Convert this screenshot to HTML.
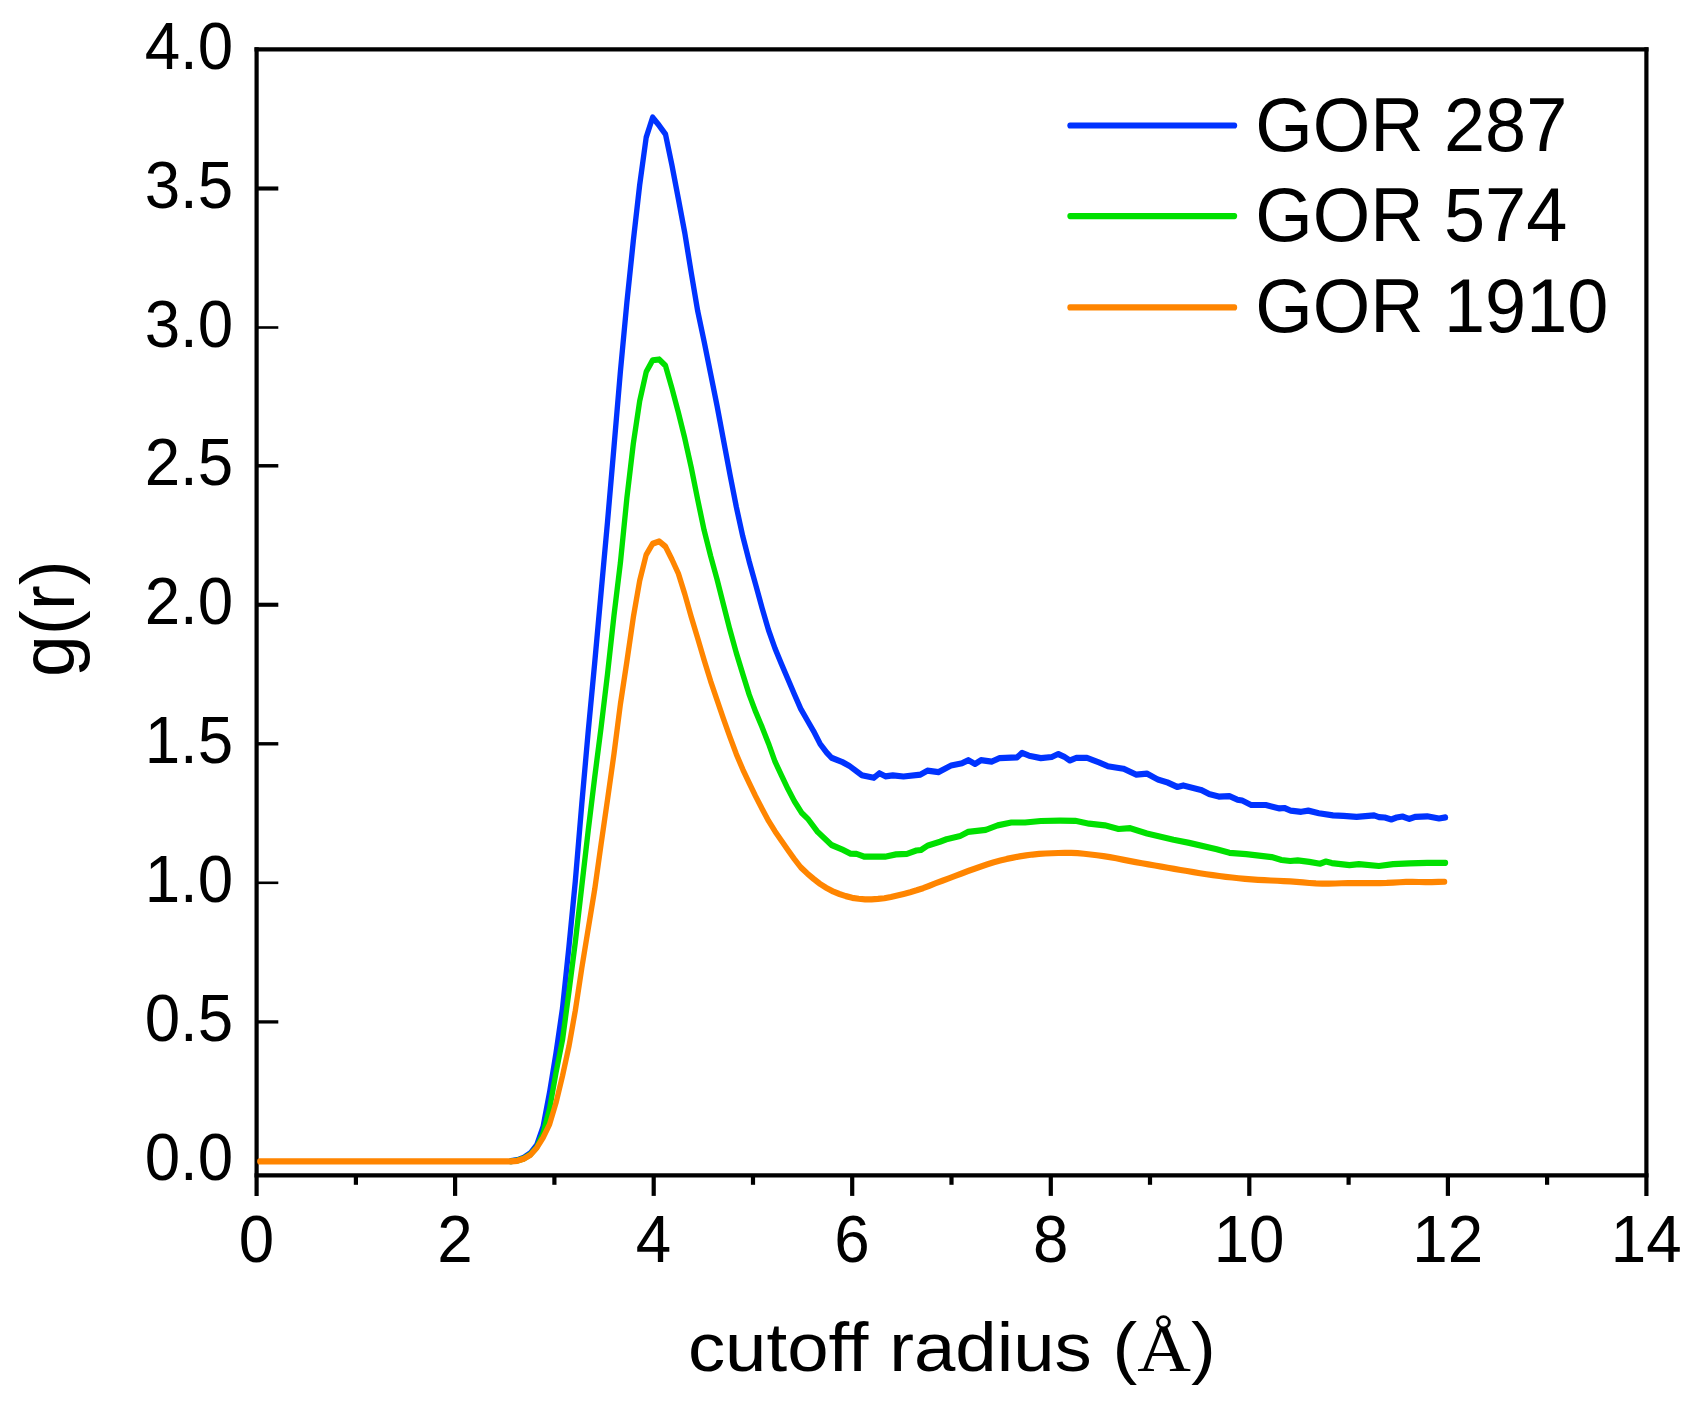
<!DOCTYPE html>
<html lang="en"><head><meta charset="utf-8"><title>g(r) vs cutoff radius</title>
<style>html,body{margin:0;padding:0;background:#fff}svg{display:block}text{font-family:"Liberation Sans",sans-serif;fill:#000}.tk{font-size:63.7px}.lg{font-size:73.9px}.ser{font-family:"Liberation Serif",serif}</style></head><body>
<svg width="1702" height="1401" viewBox="0 0 1702 1401">
<rect width="1702" height="1401" fill="#fff"/>
<g stroke="#000" stroke-width="4.2" fill="none"><line x1="256.6" y1="47.3" x2="256.6" y2="1195.9"/><line x1="1646.4" y1="47.3" x2="1646.4" y2="1195.9"/><line x1="254.5" y1="49.4" x2="1648.5" y2="49.4"/><line x1="254.5" y1="1175.3" x2="1648.5" y2="1175.3"/></g>
<g stroke="#000" stroke-width="4.2" fill="none"><line x1="355.9" y1="1175.3" x2="355.9" y2="1184.8"/><line x1="455.1" y1="1175.3" x2="455.1" y2="1195.9"/><line x1="554.4" y1="1175.3" x2="554.4" y2="1184.8"/><line x1="653.7" y1="1175.3" x2="653.7" y2="1195.9"/><line x1="753.0" y1="1175.3" x2="753.0" y2="1184.8"/><line x1="852.2" y1="1175.3" x2="852.2" y2="1195.9"/><line x1="951.5" y1="1175.3" x2="951.5" y2="1184.8"/><line x1="1050.8" y1="1175.3" x2="1050.8" y2="1195.9"/><line x1="1150.0" y1="1175.3" x2="1150.0" y2="1184.8"/><line x1="1249.3" y1="1175.3" x2="1249.3" y2="1195.9"/><line x1="1348.6" y1="1175.3" x2="1348.6" y2="1184.8"/><line x1="1447.9" y1="1175.3" x2="1447.9" y2="1195.9"/><line x1="1547.1" y1="1175.3" x2="1547.1" y2="1184.8"/><line x1="256.6" y1="188.50" x2="278.3" y2="188.50" stroke-width="4.1"/><line x1="256.6" y1="327.50" x2="278.3" y2="327.50" stroke-width="2.6"/><line x1="256.6" y1="465.80" x2="278.3" y2="465.80" stroke-width="3.5"/><line x1="256.6" y1="604.75" x2="278.3" y2="604.75" stroke-width="4.1"/><line x1="256.6" y1="743.80" x2="278.3" y2="743.80" stroke-width="3.4"/><line x1="256.6" y1="882.80" x2="278.3" y2="882.80" stroke-width="2.6"/><line x1="256.6" y1="1021.90" x2="278.3" y2="1021.90" stroke-width="3.3"/></g>
<text class="tk" transform="translate(256.4,1261.9) scale(1,1.047)" text-anchor="middle">0</text><text class="tk" transform="translate(454.9,1261.9) scale(1,1.047)" text-anchor="middle">2</text><text class="tk" transform="translate(653.5,1261.9) scale(1,1.047)" text-anchor="middle">4</text><text class="tk" transform="translate(852.0,1261.9) scale(1,1.047)" text-anchor="middle">6</text><text class="tk" transform="translate(1050.6,1261.9) scale(1,1.047)" text-anchor="middle">8</text><text class="tk" transform="translate(1249.1,1261.9) scale(1,1.047)" text-anchor="middle">10</text><text class="tk" transform="translate(1447.7,1261.9) scale(1,1.047)" text-anchor="middle">12</text><text class="tk" transform="translate(1646.2,1261.9) scale(1,1.047)" text-anchor="middle">14</text><text class="tk" transform="translate(233.2,1180.2) scale(1,1.047)" text-anchor="end">0.0</text><text class="tk" transform="translate(233.2,1041.2) scale(1,1.047)" text-anchor="end">0.5</text><text class="tk" transform="translate(233.2,902.0) scale(1,1.047)" text-anchor="end">1.0</text><text class="tk" transform="translate(233.2,763.0) scale(1,1.047)" text-anchor="end">1.5</text><text class="tk" transform="translate(233.2,624.0) scale(1,1.047)" text-anchor="end">2.0</text><text class="tk" transform="translate(233.2,485.1) scale(1,1.047)" text-anchor="end">2.5</text><text class="tk" transform="translate(233.2,346.8) scale(1,1.047)" text-anchor="end">3.0</text><text class="tk" transform="translate(233.2,207.8) scale(1,1.047)" text-anchor="end">3.5</text><text class="tk" transform="translate(233.2,68.7) scale(1,1.047)" text-anchor="end">4.0</text>
<g transform="scale(1,1.16)" fill="none" stroke-width="5.34" stroke-linejoin="round" stroke-linecap="round">
<path stroke="#0033ff" d="M510.9,1000.94 L517.4,1000.10 L523.8,998.01 L530.3,994.22 L536.7,987.14 L543.1,971.35 L549.6,941.60 L556.0,907.75 L562.5,869.19 L568.9,816.44 L575.3,759.78 L581.8,693.02 L588.2,630.56 L594.7,571.46 L601.1,510.58 L607.5,449.99 L614.0,385.09 L620.4,320.27 L626.9,260.58 L633.3,207.75 L639.7,159.27 L646.2,118.42 L652.6,101.30 L659.1,108.11 L665.5,115.73 L671.9,142.23 L678.4,171.53 L684.8,200.87 L691.2,234.93 L697.7,268.14 L704.1,294.28 L710.6,322.06 L717.0,349.61 L723.4,378.97 L729.9,408.76 L736.3,436.89 L742.8,462.43 L749.2,484.03 L755.6,503.80 L762.1,524.28 L768.5,543.15 L775.0,558.93 L781.4,572.27 L787.8,585.24 L794.3,598.34 L800.7,610.97 L807.2,620.78 L813.6,630.33 L820.0,641.09 L826.5,648.61 L831.5,653.28 L842.5,656.98 L849.5,660.34 L861.7,668.28 L873.9,670.52 L879.4,666.55 L885.3,669.22 L892.8,668.45 L903.5,669.40 L920.6,667.76 L927.3,664.40 L938.5,665.60 L951.1,659.91 L962.2,657.93 L968.5,655.34 L975.0,658.62 L980.9,655.34 L991.7,656.55 L999.5,653.53 L1017.2,652.84 L1022.1,648.97 L1029.0,651.47 L1040.8,653.53 L1051.8,652.59 L1058.1,650.00 L1064.5,652.50 L1069.8,655.60 L1076.3,653.36 L1087.1,653.36 L1098.9,657.24 L1107.7,660.52 L1123.4,662.67 L1136.2,667.76 L1147.0,666.90 L1157.8,671.98 L1167.6,674.57 L1177.4,678.45 L1183.3,677.07 L1201.0,680.95 L1208.9,684.40 L1218.7,686.72 L1229.5,686.38 L1237.3,689.40 L1242.2,690.09 L1251.1,693.97 L1265.8,693.97 L1279.5,696.90 L1284.5,696.55 L1290.6,698.79 L1301.2,699.83 L1308.3,698.79 L1318.9,701.03 L1333.0,702.93 L1343.6,703.36 L1356.6,704.14 L1374.2,702.93 L1378.9,704.40 L1384.8,704.74 L1391.3,706.47 L1396.6,704.74 L1402.5,703.88 L1409.0,705.95 L1415.5,704.14 L1427.2,703.71 L1439.0,705.60 L1445.5,704.66"/>
<path stroke="#00e000" d="M510.9,1001.05 L517.4,1000.45 L523.8,998.78 L530.3,995.32 L536.7,989.14 L543.1,977.09 L549.6,955.77 L556.0,924.67 L562.5,896.47 L568.9,855.30 L575.3,812.30 L581.8,763.82 L588.2,716.08 L594.7,670.09 L601.1,627.02 L607.5,581.17 L614.0,530.41 L620.4,485.15 L626.9,429.28 L633.3,382.51 L639.7,345.72 L646.2,320.61 L652.6,310.57 L659.1,309.88 L665.5,315.29 L671.9,334.61 L678.4,355.75 L684.8,377.95 L691.2,402.83 L697.7,430.72 L704.1,457.06 L710.6,479.17 L717.0,499.20 L723.4,521.06 L729.9,542.95 L736.3,562.84 L742.8,581.13 L749.2,598.82 L755.6,613.52 L762.1,626.91 L768.5,640.88 L775.0,656.53 L781.4,668.36 L787.8,679.92 L794.3,690.56 L801.7,700.69 L808.0,706.03 L817.4,716.90 L831.5,728.45 L842.5,732.50 L850.4,735.86 L856.6,736.12 L864.5,738.53 L885.0,738.53 L896.0,736.55 L907.0,736.12 L916.3,733.19 L921.0,732.76 L928.0,728.79 L939.9,725.69 L946.5,723.45 L960.2,720.69 L968.1,717.16 L985.8,715.43 L997.6,711.55 L1011.3,709.05 L1025.1,709.05 L1040.8,707.76 L1060.0,707.50 L1075.3,707.59 L1089.1,710.09 L1104.8,711.47 L1118.5,714.66 L1130.3,713.97 L1147.0,718.53 L1173.5,723.97 L1189.2,726.64 L1216.7,732.07 L1229.5,735.17 L1246.2,736.29 L1271.7,738.88 L1281.5,741.38 L1290.3,742.24 L1297.7,741.72 L1309.4,743.02 L1320.0,744.57 L1325.9,742.67 L1331.8,744.05 L1349.5,745.86 L1358.9,745.00 L1378.9,746.55 L1393.1,745.00 L1409.6,744.22 L1427.2,743.79 L1445.5,743.79"/>
<path stroke="#ff8500" d="M259.8,1001.21 L266.3,1001.21 L272.7,1001.21 L279.1,1001.21 L285.6,1001.21 L292.0,1001.21 L298.5,1001.21 L304.9,1001.21 L311.3,1001.21 L317.8,1001.21 L324.2,1001.21 L330.7,1001.21 L337.1,1001.21 L343.5,1001.21 L350.0,1001.21 L356.4,1001.21 L362.8,1001.21 L369.3,1001.21 L375.7,1001.21 L382.2,1001.21 L388.6,1001.21 L395.0,1001.21 L401.5,1001.21 L407.9,1001.21 L414.4,1001.21 L420.8,1001.21 L427.2,1001.21 L433.7,1001.21 L440.1,1001.21 L446.6,1001.21 L453.0,1001.21 L459.4,1001.21 L465.9,1001.21 L472.3,1001.21 L478.8,1001.21 L485.2,1001.21 L491.6,1001.21 L498.1,1001.21 L504.5,1001.21 L510.9,1001.12 L517.4,1000.73 L523.8,998.99 L530.3,995.67 L536.7,989.55 L543.1,980.73 L549.6,969.22 L556.0,950.74 L562.5,927.47 L568.9,902.18 L575.3,871.23 L581.8,834.47 L588.2,800.73 L594.7,766.76 L601.1,727.63 L607.5,689.45 L614.0,649.88 L620.4,607.00 L626.9,570.13 L633.3,532.26 L639.7,500.53 L646.2,478.18 L652.6,468.80 L659.1,466.67 L665.5,471.22 L671.9,482.20 L678.4,494.53 L684.8,512.20 L691.2,531.67 L697.7,550.19 L704.1,568.96 L710.6,587.08 L717.0,603.34 L723.4,619.44 L729.9,635.30 L736.3,650.07 L742.8,663.33 L749.2,675.06 L755.6,686.41 L762.1,697.24 L768.5,707.58 L775.0,716.65 L781.4,724.64 L787.8,732.66 L794.3,740.49 L800.7,747.64 L807.2,753.00 L813.6,757.65 L820.0,761.94 L826.5,765.53 L832.9,768.37 L839.4,770.70 L845.8,772.52 L852.2,774.00 L858.7,774.81 L865.1,775.28 L871.5,775.28 L878.0,774.93 L884.4,774.38 L890.9,773.30 L897.3,772.00 L903.7,770.67 L910.2,769.19 L916.6,767.54 L923.1,765.65 L929.5,763.53 L935.9,761.37 L942.4,759.28 L948.8,757.17 L955.3,755.08 L961.7,752.99 L968.1,750.90 L974.6,748.88 L981.0,746.92 L987.5,745.00 L993.9,743.26 L1000.3,741.78 L1006.8,740.45 L1013.2,739.30 L1019.6,738.30 L1026.1,737.40 L1032.5,736.67 L1039.0,736.17 L1045.4,735.80 L1051.8,735.54 L1058.3,735.33 L1064.7,735.19 L1071.2,735.22 L1077.6,735.52 L1084.0,736.02 L1090.5,736.64 L1096.9,737.30 L1103.4,738.00 L1109.8,738.88 L1116.2,739.91 L1122.7,741.01 L1129.1,742.13 L1135.6,743.21 L1142.0,744.20 L1148.4,745.18 L1154.9,746.15 L1161.3,747.12 L1167.8,748.08 L1174.2,749.02 L1180.6,749.95 L1187.1,750.90 L1193.5,751.86 L1199.9,752.79 L1206.4,753.67 L1212.8,754.48 L1219.3,755.19 L1225.7,755.86 L1232.1,756.49 L1238.6,757.08 L1245.0,757.62 L1251.5,758.08 L1257.9,758.47 L1264.3,758.78 L1270.8,759.04 L1277.2,759.29 L1283.7,759.54 L1290.1,759.83 L1296.5,760.22 L1303.0,760.70 L1309.4,761.18 L1315.9,761.57 L1322.3,761.79 L1328.7,761.78 L1335.2,761.63 L1341.6,761.44 L1348.0,761.31 L1354.5,761.29 L1360.9,761.29 L1367.4,761.29 L1373.8,761.29 L1380.2,761.29 L1386.7,761.16 L1393.1,760.87 L1399.6,760.54 L1406.0,760.30 L1412.4,760.27 L1418.9,760.35 L1425.3,760.43 L1431.8,760.41 L1438.2,760.30 L1444.6,760.11"/>
<line stroke="#0033ff" x1="1070.0" y1="108.19" x2="1234.5" y2="108.19"/>
<line stroke="#00e000" x1="1070.0" y1="186.25" x2="1234.5" y2="186.25"/>
<line stroke="#ff8500" x1="1070.0" y1="265.00" x2="1234.5" y2="265.00"/>
</g>
<text class="lg" transform="translate(1255.2,151.1) scale(1,1.04)">GOR 287</text>
<text class="lg" transform="translate(1255.2,241.2) scale(1,1.04)">GOR 574</text>
<text class="lg" transform="translate(1255.2,332.1) scale(1,1.04)">GOR 1910</text>
<text class="lg" style="font-size:75.2px" transform="translate(74.2,618.6) rotate(-90)" text-anchor="middle">g(r)</text>
<text class="lg" style="font-size:74.4px" transform="translate(951.8,1370.5) scale(1,0.915)" text-anchor="middle">cutoff radius (<tspan class="ser">Å</tspan>)</text>
</svg></body></html>
